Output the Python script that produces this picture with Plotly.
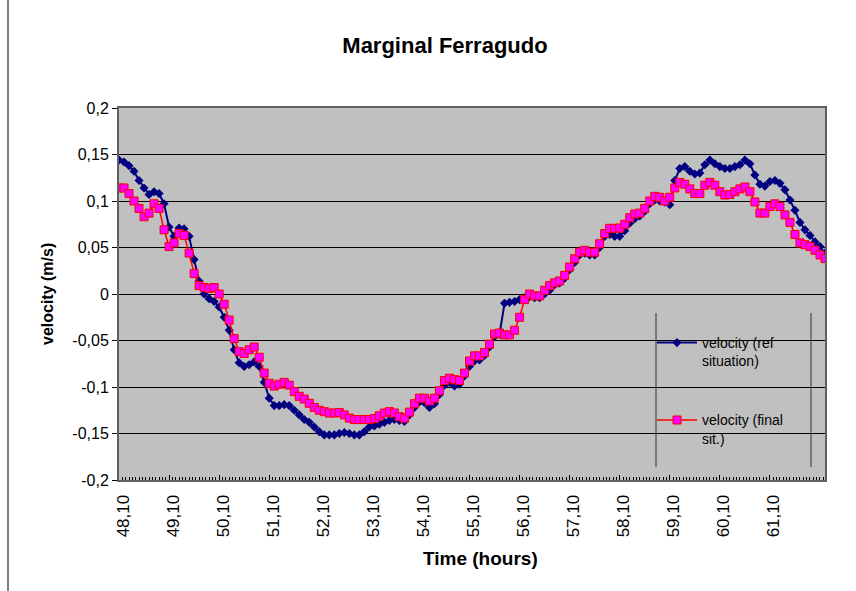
import plotly.graph_objects as go

# ---------------- data ----------------
start_hour = 48.1
step_hour = 0.1

vel_ref = [0.144, 0.142, 0.138, 0.132, 0.122, 0.114, 0.107, 0.110, 0.108, 0.097,
           0.072, 0.062, 0.071, 0.070, 0.062, 0.037, 0.014, 0.000, -0.005, -0.008,
           -0.014, -0.025, -0.039, -0.060, -0.074, -0.078, -0.076, -0.073, -0.078, -0.095,
           -0.112, -0.120, -0.120, -0.119, -0.120, -0.125, -0.130, -0.135, -0.138, -0.143,
           -0.148, -0.1515, -0.1515, -0.1515, -0.150, -0.149, -0.150, -0.1515, -0.1515, -0.148,
           -0.143, -0.142, -0.140, -0.138, -0.136, -0.135, -0.136, -0.137, -0.130, -0.122,
           -0.116, -0.117, -0.122, -0.118, -0.108, -0.098, -0.095, -0.099, -0.097, -0.088,
           -0.078, -0.072, -0.071, -0.066, -0.057, -0.046, -0.043, -0.010, -0.009, -0.008,
           -0.006, -0.004, -0.003, -0.004, -0.004, 0.000, 0.004, 0.010, 0.012, 0.017,
           0.026, 0.034, 0.042, 0.044, 0.042, 0.042, 0.050, 0.062, 0.064, 0.062,
           0.062, 0.068, 0.076, 0.081, 0.084, 0.089, 0.097, 0.101, 0.100, 0.099,
           0.096, 0.122, 0.135, 0.137, 0.132, 0.129, 0.130, 0.139, 0.144, 0.140,
           0.137, 0.135, 0.135, 0.137, 0.139, 0.144, 0.140, 0.128, 0.118, 0.116,
           0.121, 0.122, 0.119, 0.112, 0.101, 0.090, 0.077, 0.069, 0.063, 0.056,
           0.051, 0.044]

vel_final = [0.114, 0.114, 0.108, 0.100, 0.092, 0.083, 0.087, 0.097, 0.092, 0.069,
             0.051, 0.055, 0.065, 0.063, 0.044, 0.022, 0.009, 0.007, 0.006, 0.007,
             0.000, -0.011, -0.028, -0.048, -0.062, -0.064, -0.060, -0.057, -0.068, -0.085,
             -0.096, -0.099, -0.097, -0.095, -0.098, -0.105, -0.110, -0.113, -0.1175, -0.122,
             -0.125, -0.1265, -0.128, -0.128, -0.1275, -0.130, -0.1335, -0.135, -0.135, -0.135,
             -0.135, -0.134, -0.131, -0.128, -0.1265, -0.128, -0.132, -0.1335, -0.127, -0.118,
             -0.112, -0.112, -0.115, -0.112, -0.104, -0.093, -0.0905, -0.092, -0.093, -0.085,
             -0.072, -0.0665, -0.0665, -0.063, -0.054, -0.043, -0.042, -0.044, -0.044, -0.039,
             -0.025, -0.006, 0.000, -0.002, -0.002, 0.004, 0.009, 0.012, 0.014, 0.020,
             0.029, 0.038, 0.045, 0.047, 0.045, 0.045, 0.054, 0.065, 0.0706, 0.0706,
             0.071, 0.075, 0.082, 0.086, 0.087, 0.092, 0.100, 0.105, 0.104, 0.100,
             0.104, 0.114, 0.120, 0.118, 0.113, 0.108, 0.108, 0.117, 0.120, 0.117,
             0.110, 0.1064, 0.107, 0.110, 0.113, 0.115, 0.110, 0.099, 0.087, 0.087,
             0.094, 0.097, 0.094, 0.085, 0.077, 0.064, 0.055, 0.053, 0.051, 0.047,
             0.042, 0.038]

x_tick_values = [48.1, 49.1, 50.1, 51.1, 52.1, 53.1, 54.1, 55.1, 56.1, 57.1, 58.1, 59.1, 60.1, 61.1]
x_tick_labels = ["48,10", "49,10", "50,10", "51,10", "52,10", "53,10", "54,10",
                 "55,10", "56,10", "57,10", "58,10", "59,10", "60,10", "61,10"]
y_tick_values = [-0.2, -0.15, -0.1, -0.05, 0, 0.05, 0.1, 0.15, 0.2]
y_tick_labels = ["-0,2", "-0,15", "-0,1", "-0,05", "0", "0,05", "0,1", "0,15", "0,2"]

time_h = [round(start_hour + step_hour * i, 2) for i in range(len(vel_ref))]

# ---------------- figure ----------------
FONT = "Liberation Sans, Arial, sans-serif"
W, H = 856, 591
L, R, T, B = 119, 31, 108, 111
PW, PH = W - L - R, H - T - B


def px_x(p):
    return (p - L) / PW


def px_y(p):
    return (H - B - p) / PH


fig = go.Figure()
fig.add_trace(go.Scatter(
    x=time_h, y=vel_ref, mode="lines+markers",
    name="velocity (ref<br>situation)", legendgroup="a",
    line=dict(color="#000080", width=2),
    marker=dict(symbol="diamond", size=7, color="#000080"),
))
fig.add_trace(go.Scatter(
    x=time_h, y=vel_final, mode="lines+markers",
    name="velocity (final<br>sit.)", legendgroup="b",
    line=dict(color="#FF0000", width=1.5),
    marker=dict(symbol="square", size=8, color="#FF00FF",
                line=dict(color="#FF0000", width=1)),
))

shapes = [
    # legend background box
    dict(type="rect", xref="paper", yref="paper",
         x0=px_x(656), x1=px_x(811), y0=px_y(467), y1=px_y(313),
         fillcolor="#C0C0C0", line=dict(width=0), layer="between"),
    dict(type="line", xref="paper", yref="paper",
         x0=px_x(656), x1=px_x(656), y0=px_y(467), y1=px_y(313),
         line=dict(color="#303030", width=1), layer="above"),
    dict(type="line", xref="paper", yref="paper",
         x0=px_x(811), x1=px_x(811), y0=px_y(467), y1=px_y(313),
         line=dict(color="#303030", width=1), layer="above"),
    # page border line at left
    dict(type="line", xref="paper", yref="paper",
         x0=px_x(8), x1=px_x(8), y0=px_y(591), y1=px_y(0),
         line=dict(color="#000000", width=1), layer="above"),
]

annotations = [
    dict(text="<b>velocity (m/s)</b>", xref="paper", yref="paper",
         x=px_x(47), y=px_y(294), textangle=-90, showarrow=False,
         xanchor="center", yanchor="middle",
         font=dict(family=FONT, size=16, color="#000000")),
    dict(text="<b>Time (hours)</b>", xref="paper", yref="paper",
         x=px_x(481), y=px_y(558), showarrow=False,
         xanchor="center", yanchor="middle",
         font=dict(family=FONT, size=19, color="#000000")),
]

fig.update_layout(
    width=W, height=H,
    margin=dict(l=L, r=R, t=T, b=B, pad=0),
    paper_bgcolor="#FFFFFF",
    plot_bgcolor="#C0C0C0",
    font=dict(family=FONT, size=15, color="#000000"),
    title=dict(text="<b>Marginal Ferragudo</b>", x=px_x(445), xref="paper",
               y=1 - 45 / H, yref="container", xanchor="center", yanchor="middle",
               font=dict(family=FONT, size=22, color="#000000")),
    showlegend=True,
    legend=dict(x=px_x(652), y=px_y(327), xanchor="left", yanchor="top",
                bgcolor="rgba(0,0,0,0)", borderwidth=0, itemwidth=40,
                traceorder="grouped", tracegroupgap=38, valign="top",
                font=dict(family=FONT, size=14, color="#000000")),
    shapes=shapes,
    annotations=annotations,
)

fig.update_xaxes(
    range=[time_h[0], time_h[-1]],
    tickvals=x_tick_values, ticktext=x_tick_labels, tickangle=-90,
    ticks="inside", ticklen=5, tickcolor="#000000",
    ticklabelstandoff=6, ticklabelshift=4,
    minor=dict(ticks="inside", ticklen=3, dtick=1 / 15, tick0=start_hour,
               tickcolor="#000000", showgrid=False),
    showgrid=False, zeroline=False,
    showline=True, linecolor="#606060", linewidth=2, mirror=True,
    tickfont=dict(family=FONT, size=17, color="#000000"),
)
fig.update_yaxes(
    range=[-0.2, 0.2],
    tickvals=y_tick_values, ticktext=y_tick_labels,
    ticks="outside", ticklen=5, tickcolor="#000000",
    showgrid=True, gridcolor="#000000", gridwidth=1,
    zeroline=False,
    showline=True, linecolor="#606060", linewidth=2, mirror=True,
    tickfont=dict(family=FONT, size=16, color="#000000"),
)

fig.write_html("out.html",
               config={"displayModeBar": False},
               post_script="document.body.style.margin='0';document.body.style.overflow='hidden';")
